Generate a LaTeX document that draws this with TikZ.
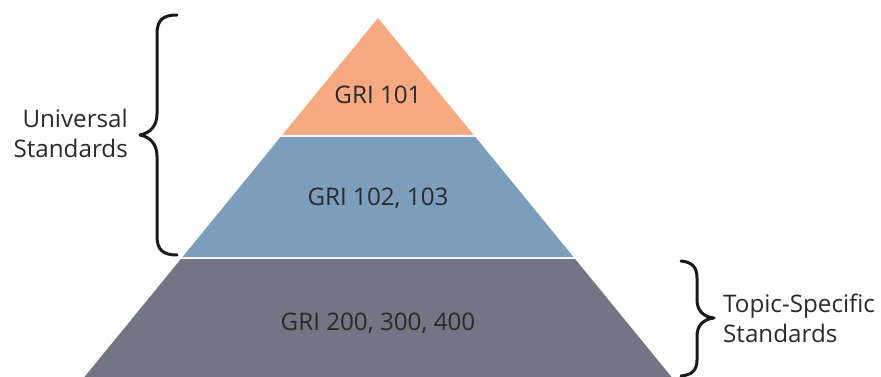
\documentclass[tikz,border=0pt]{standalone}
\usepackage{fontspec}
\setmainfont{Open Sans}
\definecolor{topc}{HTML}{F7A982}
\definecolor{midc}{HTML}{7C9DBC}
\definecolor{botc}{HTML}{737585}
\definecolor{txt}{HTML}{2A2A2A}
\begin{document}
\begin{tikzpicture}[x=1pt,y=-1pt,
  lbl/.style={text=txt,font=\fontsize{24.2}{30}\selectfont,inner sep=0pt},
  brace/.style={draw=black!90,line width=3pt,line cap=round,line join=round}]
\useasboundingbox (0,0) rectangle (881,377);
% pyramid: apex (378,18), slope 0.818
\fill[topc] (378,18) -- (473.7,135) -- (282.3,135) -- cycle;
\fill[midc] (280.6,137) -- (475.4,137) -- (573.5,257) -- (182.5,257) -- cycle;
\fill[botc] (180.9,259) -- (575.1,259) -- (672,377.5) -- (84,377.5) -- cycle;
\node[lbl] (t1) at (378,95) {GRI 101};
\node[lbl] (t2) at (378,198) {GRI 102, 103};
\node[lbl] (t3) at (378,323) {GRI 200, 300, 400};
% left brace
\draw[brace] (177,15) .. controls (163,15) and (157,20) .. (157,34)
  -- (157,114) .. controls (157,126) and (150,133) .. (140,135)
  .. controls (150,137) and (157,144) .. (157,156)
  -- (157,236) .. controls (157,250) and (163,255) .. (177,255);
% right brace
\draw[brace] (681,261) .. controls (692,262) and (697,267) .. (697,278)
  -- (697,300) .. controls (697,311) and (704,317) .. (714,318)
  .. controls (704,319) and (697,325) .. (697,336)
  -- (697,360) .. controls (697,370) and (692,375) .. (681,376);
\node[lbl,align=right,anchor=east] (u) at (128,133) {Universal\\Standards};
\node[lbl,align=left,anchor=west] (ts) at (723,318) {Topic-Specific\\Standards};
\end{tikzpicture}
\end{document}
